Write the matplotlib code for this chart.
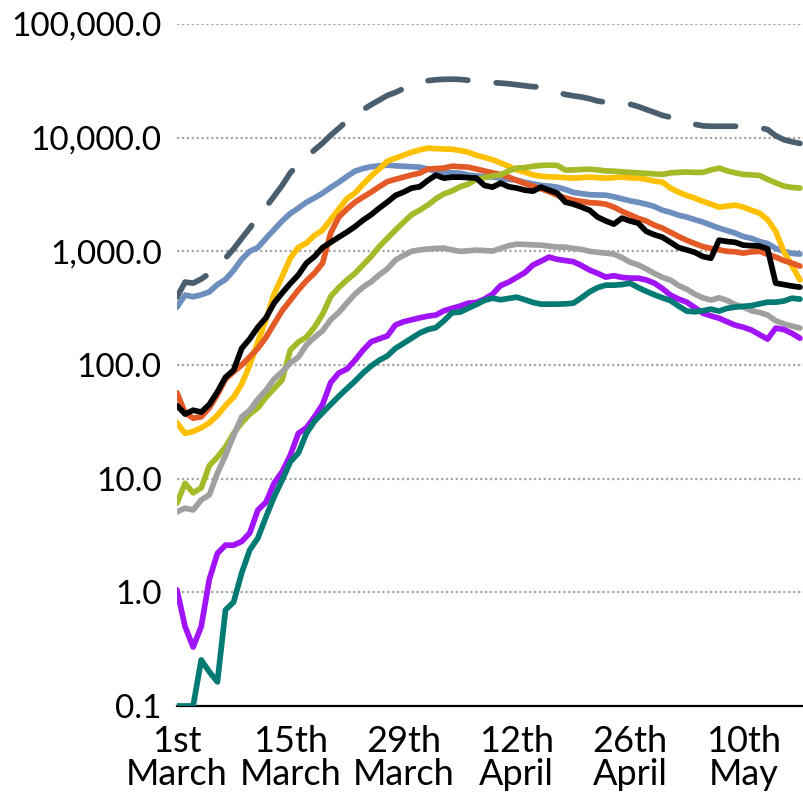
import numpy as np
import pandas as pd
import matplotlib
matplotlib.use("Agg")
import matplotlib.pyplot as plt
from matplotlib.ticker import FixedLocator, FuncFormatter, NullLocator

# ---------------------------
# DATA (daily values, 1 March - 17 May)
# ---------------------------
dates = pd.date_range("2020-03-01", periods=78, freq="D")

total = [396, 536, 525, 570, 640, 760, 870, 1050, 1300, 1600, 2000, 2450, 3050, 3800,
         4900, 5800, 6700, 7800, 8950, 10500, 12100, 14000, 15800, 17600, 19500, 21400,
         23500, 25000, 27000, 28700, 30300, 31700, 32300, 32600, 32700, 32500, 32000,
         31400, 30900, 30500, 30200, 29800, 29200, 28600, 28100, 27800, 26200, 25000,
         24000, 23300, 22800, 22000, 21000, 20500, 20200, 19900, 19700, 18800, 17700,
         16700, 15700, 15100, 14300, 13500, 13100, 12700, 12600, 12600, 12600, 12600,
         12500, 12400, 12200, 11800, 10400, 9600, 9200, 8900]

blue = [323, 412, 398, 415, 440, 510, 565, 680, 850, 1000, 1080, 1300, 1550, 1850, 2150,
        2400, 2700, 2950, 3250, 3650, 4050, 4550, 5070, 5350, 5550, 5650, 5730, 5650, 5600,
        5550, 5500, 5300, 5050, 4950, 4900, 4875, 4700, 4600, 4550, 4500, 4400, 4300, 4230,
        4050, 3920, 3800, 3750, 3670, 3500, 3300, 3220, 3150, 3130, 3120, 3020, 2900, 2780,
        2700, 2600, 2480, 2300, 2200, 2080, 2000, 1900, 1810, 1700, 1600, 1520, 1446, 1350,
        1300, 1220, 1170, 1060, 1000, 960, 945]

yellow = [31, 25, 26, 28, 31, 36, 44, 52, 68, 100, 160, 250, 420, 600, 870, 1080, 1180,
          1380, 1536, 1900, 2350, 2900, 3250, 3900, 4600, 5300, 6200, 6600, 7000, 7450,
          7800, 8090, 8000, 7950, 7900, 7700, 7460, 7000, 6700, 6400, 6000, 5600, 5200,
          4980, 4700, 4585, 4520, 4495, 4450, 4405, 4450, 4495, 4450, 4405, 4450, 4500,
          4430, 4405, 4300, 4150, 4060, 3600, 3317, 3100, 2937, 2750, 2600, 2447, 2500,
          2550, 2450, 2300, 2170, 1900, 1500, 1000, 750, 560]

red = [57, 38, 34, 35, 42, 55, 75, 87, 100, 118, 140, 175, 230, 300, 370, 456, 550, 643,
       787, 1450, 2000, 2350, 2700, 3000, 3317, 3700, 4100, 4300, 4495, 4700, 4875, 5280,
       5350, 5400, 5610, 5550, 5500, 5300, 5100, 4900, 4750, 4500, 4200, 3950, 3750, 3550,
       3350, 3120, 2950, 2820, 2750, 2680, 2657, 2600, 2450, 2250, 2100, 1950, 1850, 1700,
       1600, 1470, 1350, 1250, 1170, 1100, 1060, 1030, 1000, 990, 964, 990, 1000, 940,
       890, 830, 787, 741]

black = [44, 37, 40, 38.5, 45, 58, 78, 90, 140, 170, 215, 260, 350, 430, 520, 620, 787,
         900, 1080, 1200, 1333, 1475, 1650, 1880, 2100, 2400, 2710, 3100, 3317, 3600, 3700,
         4200, 4680, 4400, 4495, 4495, 4450, 4405, 3800, 3670, 3980, 3700, 3600, 3450, 3385,
         3670, 3450, 3250, 2710, 2600, 2450, 2300, 2000, 1850, 1735, 1960, 1850, 1770, 1500,
         1400, 1330, 1200, 1080, 1030, 980, 900, 870, 1253, 1220, 1200, 1133, 1120, 1111,
         1050, 525, 510, 495, 484]

green = [6.1, 9.1, 7.5, 8.3, 13, 15.5, 19, 25, 31, 37, 42, 52, 62, 74, 135, 159, 176, 215,
         280, 400, 480, 560, 640, 760, 900, 1100, 1300, 1537, 1800, 2100, 2300, 2550, 2900,
         3200, 3400, 3700, 3900, 4300, 4450, 4600, 4700, 5100, 5400, 5450, 5600, 5700, 5730,
         5700, 5180, 5200, 5250, 5280, 5200, 5100, 5070, 5000, 4950, 4900, 4850, 4800, 4750,
         4900, 4950, 4980, 4950, 4950, 5200, 5400, 5100, 4900, 4750, 4700, 4650, 4300, 4000,
         3750, 3650, 3600]

grey = [5.1, 5.5, 5.3, 6.5, 7.2, 11.2, 16, 24, 35, 40, 50, 60, 75, 87, 104, 117, 150, 175,
        200, 250, 290, 350, 420, 484, 540, 620, 700, 838, 920, 1000, 1030, 1048, 1060, 1067,
        1030, 1000, 1010, 1025, 1015, 1005, 1060, 1120, 1156, 1150, 1140, 1133, 1110, 1090,
        1088, 1060, 1040, 1000, 980, 964, 945, 880, 803, 760, 700, 640, 590, 558, 500, 465,
        420, 390, 372, 390, 370, 340, 323, 300, 290, 275, 245, 230, 220, 211]

purple = [1.05, 0.5, 0.33, 0.5, 1.3, 2.2, 2.6, 2.6, 2.8, 3.33, 5.3, 6.2, 9.1, 11.5, 16, 25,
          28, 35, 45, 70, 85, 92, 110, 135, 160, 170, 180, 225, 240, 250, 260, 269, 275,
          300, 315, 330, 350, 355, 380, 420, 500, 536, 590, 650, 757, 820, 890, 850, 830,
          810, 750, 684, 640, 593, 610, 590, 581, 581, 560, 525, 470, 412, 380, 357, 320,
          286, 270, 258, 240, 224, 215, 203, 185, 169, 211, 205, 190, 172]

teal = [0.1, 0.1, 0.1, 0.254, 0.2, 0.163, 0.7, 0.82, 1.48, 2.36, 3.0, 4.6, 6.9, 9.7, 14,
        16.8, 25, 32, 38, 45, 53, 62, 72, 85, 98, 110, 120, 140, 155, 172, 191, 205, 213,
        245, 288, 292, 316, 340, 370, 387, 375, 385, 395, 375, 355, 343, 343, 343, 345, 350,
        390, 440, 480, 504, 504, 510, 525, 480, 445, 415, 390, 368, 330, 298, 294, 300, 310,
        298, 315, 323, 328, 333, 345, 357, 357, 365, 387, 380]

y_ticks = [0.1, 1, 10, 100, 1000, 10000, 100000]
x_tick_days = [0, 14, 28, 42, 56, 70]
x_tick_labels = ["1st\nMarch", "15th\nMarch", "29th\nMarch", "12th\nApril", "26th\nApril", "10th\nMay"]

# ---------------------------
# PLOT
# ---------------------------
plt.rcParams["font.family"] = ["Lato", "DejaVu Sans"]

fig = plt.figure(figsize=(8.04, 7.97), dpi=100)
ax = fig.add_axes([0.2201, 0.1142, 0.7799, 0.8557])

lw = 4.1
common = dict(lw=lw, solid_joinstyle="round", solid_capstyle="round")

ax.plot(dates, total, color="#4b5e6e", lw=lw, dashes=(7.0, 5.0),
        dash_capstyle="round", dash_joinstyle="round")
ax.plot(dates, blue, color="#6d8ebf", **common)
ax.plot(dates, yellow, color="#ffc000", **common)
ax.plot(dates, red, color="#e35a27", **common)
ax.plot(dates, green, color="#a5b929", **common)
ax.plot(dates, grey, color="#a0a0a0", **common)
ax.plot(dates, purple, color="#a114f7", **common)
ax.plot(dates, teal, color="#007a73", **common)
ax.plot(dates, black, color="#000000", **common)

ax.set_yscale("log")
ax.set_ylim(0.1, 100000)
ax.set_xlim(dates[0], dates[0] + pd.Timedelta(days=77.5))

ax.yaxis.set_major_locator(FixedLocator(y_ticks))
ax.yaxis.set_minor_locator(NullLocator())
ax.yaxis.set_major_formatter(FuncFormatter(lambda v, p: f"{v:,.1f}"))

ax.set_xticks([dates[d] for d in x_tick_days])
ax.set_xticklabels(x_tick_labels, linespacing=1.0)
ax.xaxis.set_minor_locator(NullLocator())

ax.tick_params(axis="both", length=0, labelcolor="#000000")
ax.tick_params(axis="x", pad=14, labelsize=26)
ax.tick_params(axis="y", pad=11, labelsize=24)

for v in y_ticks[1:]:
    ax.axhline(v, color="#a6a6a6", lw=1.6, ls=(0, (1, 1.2)), zorder=0)

for s in ["top", "right", "left"]:
    ax.spines[s].set_visible(False)
ax.spines["bottom"].set_color("#000000")
ax.spines["bottom"].set_linewidth(1.6)
ax.spines["bottom"].set_zorder(0.5)

fig.savefig("out.png", dpi=100)
